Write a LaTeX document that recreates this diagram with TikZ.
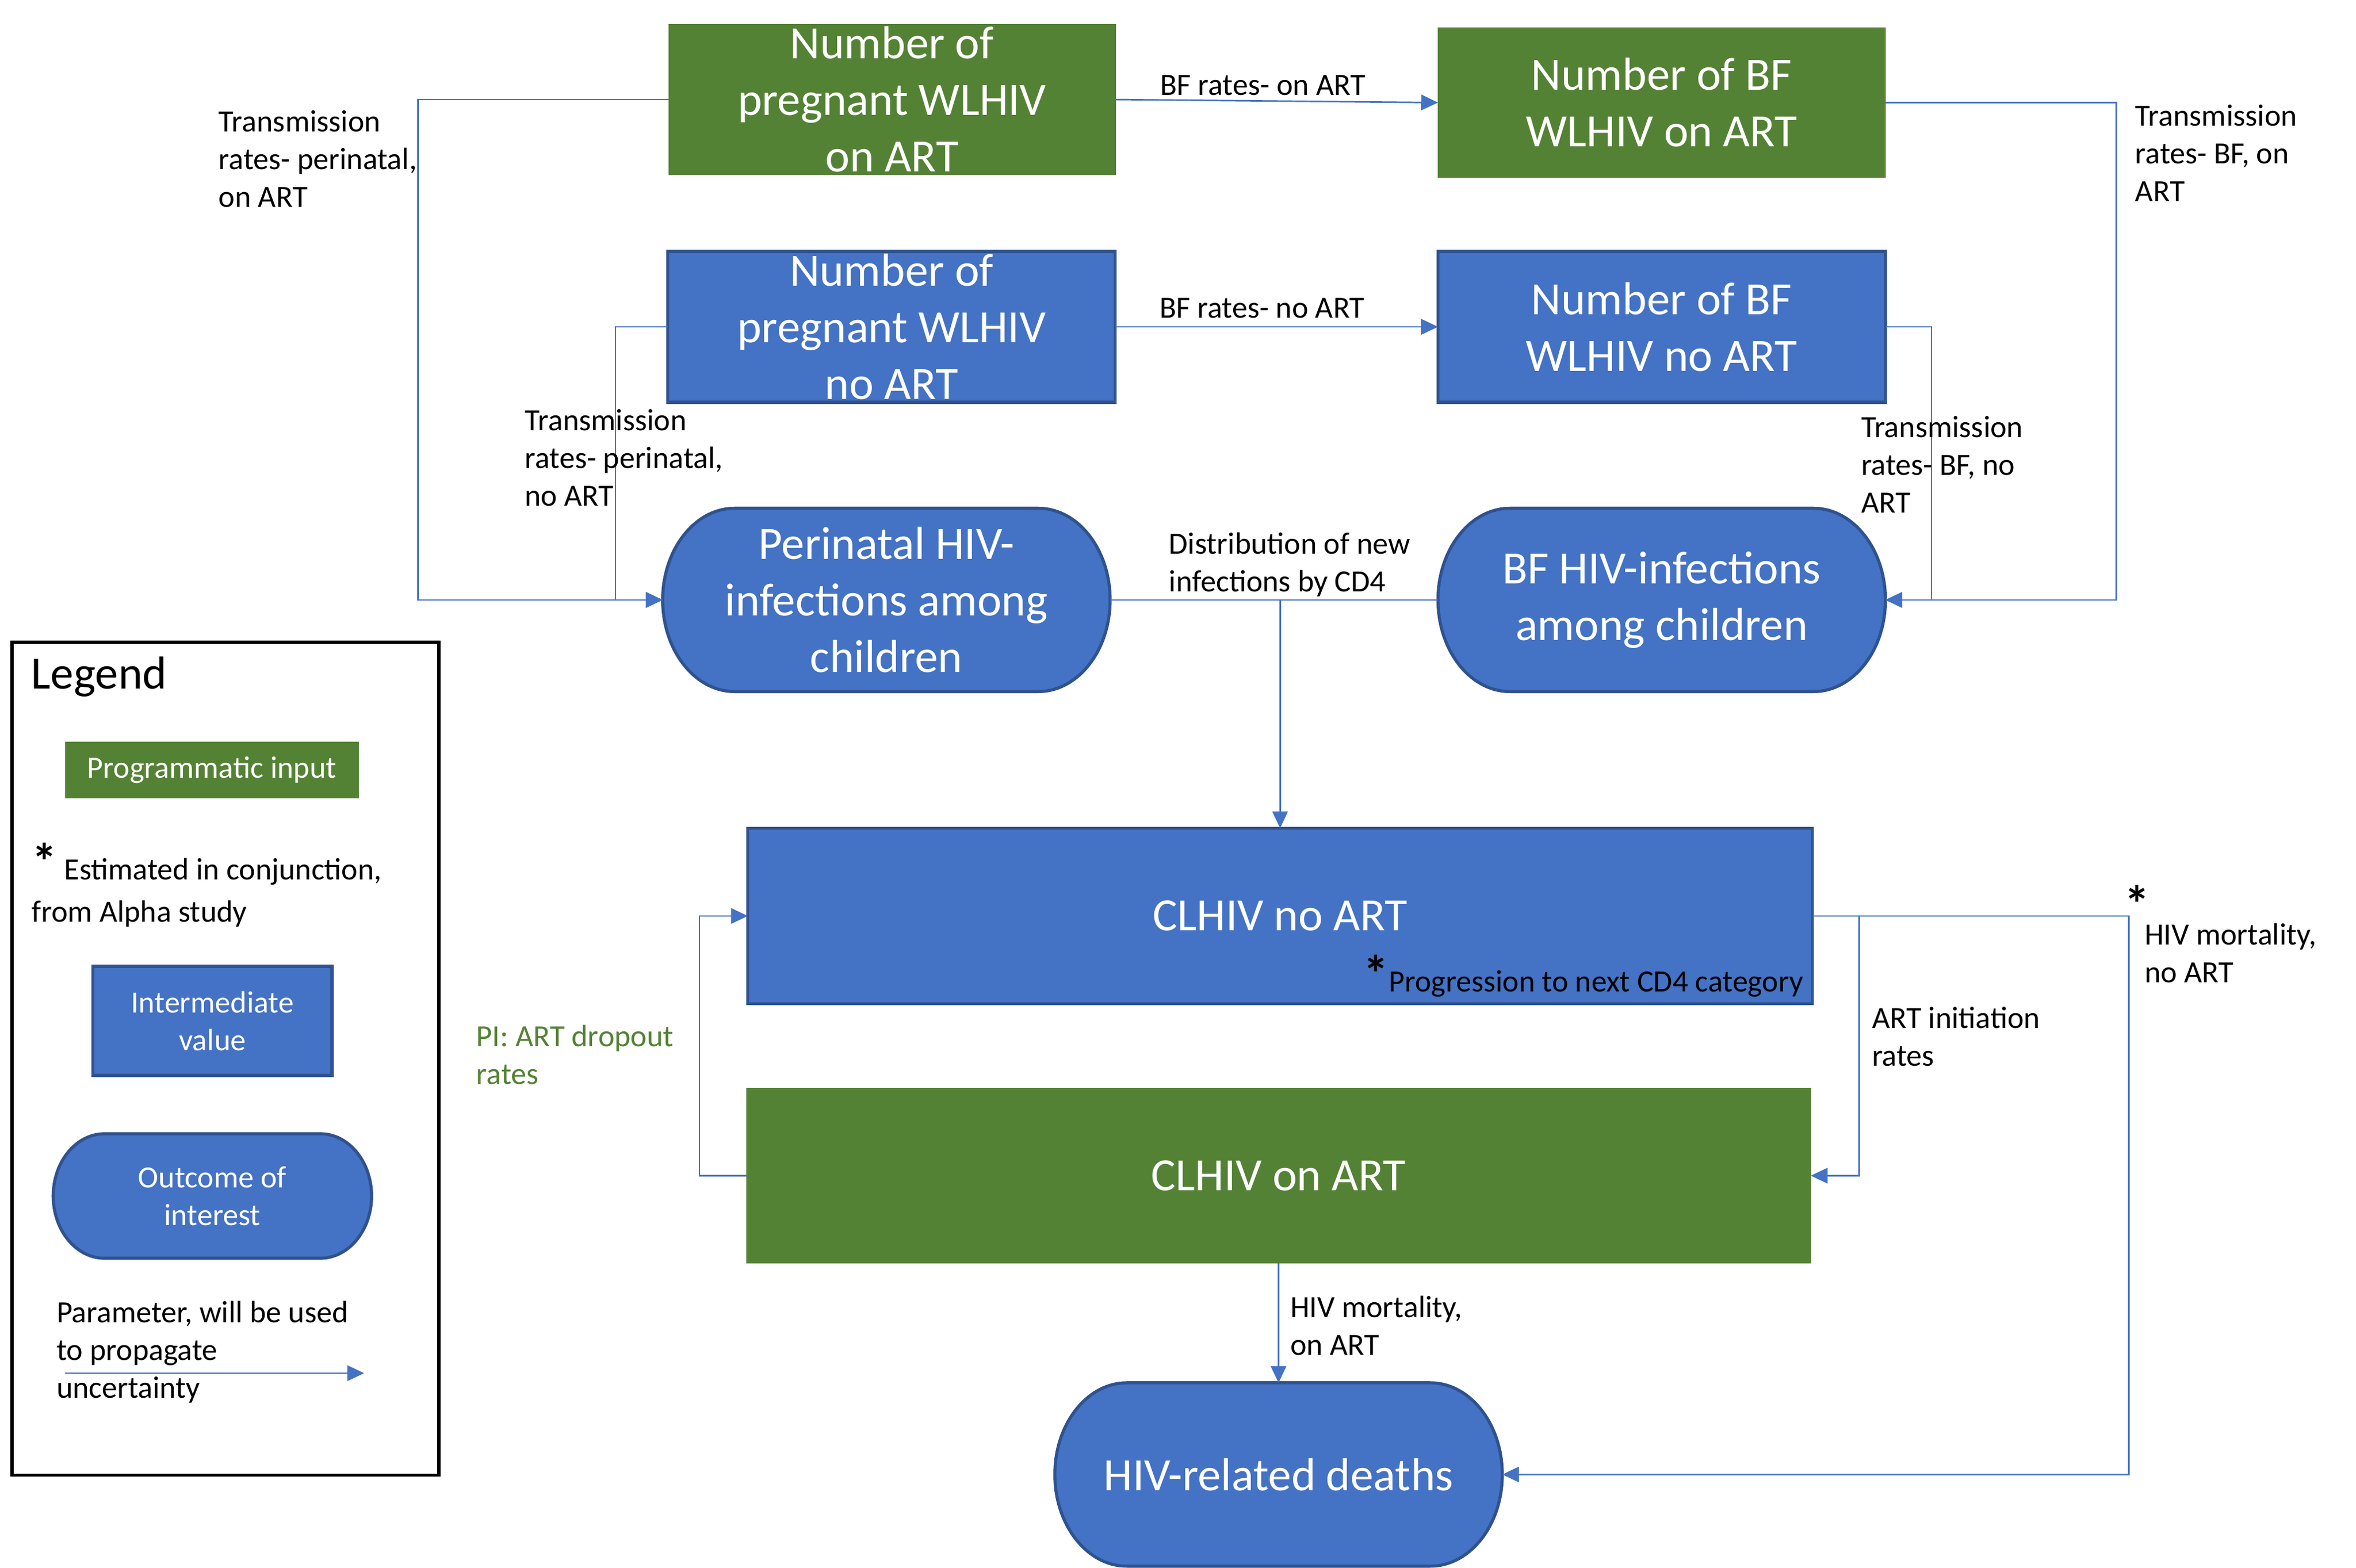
\documentclass[tikz,border=0pt]{standalone}
\usepackage{fontspec}
\setmainfont{Carlito}
\usetikzlibrary{arrows.meta}
\usetikzlibrary{calc}
\usetikzlibrary{backgrounds}
\usetikzlibrary{positioning}
\definecolor{inblue}{HTML}{4472C4}
\definecolor{edgeblue}{HTML}{2F528F}
\definecolor{proggreen}{HTML}{548235}
\newcommand{\boxfont}{\fontsize{18}{22}\selectfont}
\newcommand{\labelfont}{\fontsize{12}{14.65}\selectfont}
\newcommand{\starfont}{\fontsize{20}{20}\bfseries}
\newcommand{\boxwidth}{174pt}
\newcommand{\boxheight}{58.6pt}
\newcommand{\stadheight}{71.3pt}
\newcommand{\widewidth}{414pt}
\newcommand{\wideheight}{68.3pt}
\tikzstyle{box}=[inner sep=0, outer sep=0, align=center, text=white, font=\boxfont]
\tikzstyle{gbox}=[box, fill=proggreen]
\tikzstyle{bbox}=[box, fill=inblue, draw=edgeblue, line width=1.2pt]
\tikzstyle{obox}=[box]
\tikzstyle{param}=[draw=inblue, line width=0.6pt, -{Triangle[length=6.5pt, width=6pt]}]
\tikzstyle{plabel}=[inner sep=0, anchor=west, align=left, font=\labelfont]
% terminator outline behind an obox node
\newcommand{\stadium}[1]{%
    \begin{pgfonlayer}{background}
        \path[fill=inblue, draw=edgeblue, line width=1.2pt]
            let \p1=(#1.north west), \p2=(#1.south east),
                \n1={0.161*(\x2-\x1)}, \n2={(\y1-\y2)/2} in
            (\x1+\n1,\y1) -- (\x2-\n1,\y1)
            arc[start angle=90, end angle=-90, x radius=\n1, y radius=\n2]
            -- (\x1+\n1,\y2)
            arc[start angle=270, end angle=90, x radius=\n1, y radius=\n2] -- cycle;
    \end{pgfonlayer}}

\begin{document}
\begin{tikzpicture}[x=1pt, y=1pt]
    \useasboundingbox (0,0) rectangle (916.2,-609.6);
    % mothers
    \node[gbox, minimum width=\boxwidth, minimum height=\boxheight] (preART) at (346.9,-38.7) {Number of\\pregnant WLHIV\\on ART};
    \node[bbox, minimum width=\boxwidth, minimum height=\boxheight] (preNo) at (346.7,-127.1) {Number of\\pregnant WLHIV\\no ART};
    \node[gbox, minimum width=\boxwidth, minimum height=\boxheight] (bfART) at (646.2,-39.9) {Number of BF\\WLHIV on ART};
    \node[bbox, minimum width=\boxwidth, minimum height=\boxheight] (bfNo) at (646.2,-127.1) {Number of BF\\WLHIV no ART};
    % infections
    \node[obox, minimum width=\boxwidth, minimum height=\stadheight] (periInf) at (344.7,-233.3) {Perinatal HIV-\\infections among\\children};
    \node[obox, minimum width=\boxwidth, minimum height=\stadheight] (bfInf) at (646.2,-233.3) {BF HIV-infections\\among children};
    \stadium{periInf}
    \stadium{bfInf}
    % children
    \node[bbox, minimum width=\widewidth, minimum height=\wideheight] (clNo) at (497.8,-356.2) {CLHIV no ART};
    \node[gbox, minimum width=\widewidth, minimum height=\wideheight] (clART) at (497.2,-457.2) {CLHIV on ART};
    \node[obox, minimum width=\boxwidth, minimum height=\stadheight] (deaths) at (497.2,-573.4) {HIV-related deaths};
    \stadium{deaths}
    \node[inner sep=0, anchor=east, font=\labelfont] (progr) at ([xshift=-3.3pt, yshift=10.9pt]clNo.south east) {{\starfont *}Progression to next CD4 category};

    % connectors
    \draw[param] (preART.west) -- ++(-97.3,0) |- (periInf.west);
    \draw[param] (preNo.west) -- ++(-20.4,0) |- (periInf.west);
    \draw[param] (preART.east) -- (bfART.west);
    \draw[param] (preNo.east) -- (bfNo.west);
    \draw[param] (bfART.east) -- ++(89.8,0) |- (bfInf.east);
    \draw[param] (bfNo.east) -- ++(17.9,0) |- (bfInf.east);
    \draw[draw=inblue, line width=0.6pt] (periInf.east) -- (bfInf.west);
    \draw[param] (clNo.north |- periInf.east) -- (clNo.north);
    \draw[param] (clNo.east) -- ++(18.2,0) |- (clART.east);
    \draw[param] (clNo.east) -- ++(123.1,0) |- (deaths.east);
    \draw[param] (clART.west) -- ++(-18.2,0) |- (clNo.west);
    \draw[param] (clART.south) -- (deaths.north);

    % labels
    \node[plabel] (lPeriART) at (84.9,-61.8) {Transmission\\rates- perinatal,\\on ART};
    \node[plabel] (lPeriNo) at (203.9,-178) {Transmission\\rates- perinatal,\\no ART};
    \node[plabel] (lBfRatesART) at (451,-33.2) {BF rates- on ART};
    \node[plabel] (lBfRatesNo) at (450.7,-119.8) {BF rates- no ART};
    \node[plabel] (lBfART) at (830.2,-59.6) {Transmission\\rates- BF, on\\ART};
    \node[plabel] (lBfNo) at (723.6,-180.7) {Transmission\\rates- BF, no\\ART};
    \node[plabel] (lDistr) at (454.4,-219.6) {Distribution of new\\infections by CD4};
    \node[plabel] (lInit) at (727.8,-403.1) {ART initiation\\rates};
    \node[inner sep=0, font=\starfont] (lStar) at (831,-351.5) {*};
    \node[plabel] (lMortNo) at (833.8,-370.6) {HIV mortality,\\no ART};
    \node[plabel] (lMortART) at (501.6,-515.6) {HIV mortality,\\on ART};
    \node[plabel, text=proggreen] (lDrop) at (185.1,-410.2) {PI: ART dropout\\rates};

    % legend
    \node[draw, line width=1.2pt, inner sep=0, minimum width=166pt, minimum height=323.8pt] (legend) at (87.7,-411.7) {};
    \node[inner sep=0, anchor=west, font=\boxfont] (legTitle) at (12,-263.1) {Legend};
    \node[gbox, font=\labelfont, minimum width=114.2pt, minimum height=22pt] (legProg) at (82.4,-299.4) {Programmatic input};
    \node[inner sep=0, anchor=base west, font=\labelfont] (legStar) at (12.2,-342.2) {{\starfont *} Estimated in conjunction,};
    \node[inner sep=0, anchor=base west, font=\labelfont] (legAlpha) at (12.2,-358.6) {from Alpha study};
    \node[bbox, font=\labelfont, minimum width=93.1pt, minimum height=42.4pt] (legInter) at (82.6,-397) {Intermediate\\value};
    \node[obox, font=\labelfont, minimum width=123.8pt, minimum height=48.4pt] (legOut) at (82.6,-465.1) {Outcome of\\interest};
    \stadium{legOut}
    \node[plabel] (legParam) at (21.8,-525.8) {Parameter, will be used\\to propagate\\uncertainty};
    \coordinate (legA) at (25.3,-534);
    \coordinate (legB) at (141.6,-534);
    \draw[param] (legA) -- (legB);
\end{tikzpicture}
\end{document}
